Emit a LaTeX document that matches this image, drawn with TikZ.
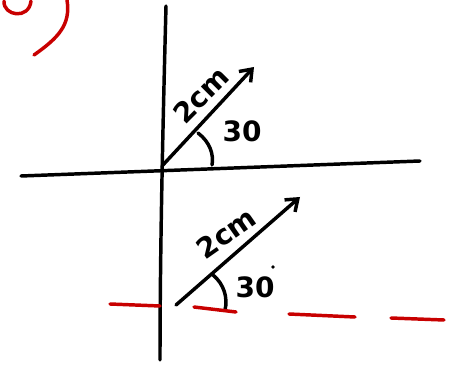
\documentclass[tikz,border=0pt]{standalone}
\usepackage{fontspec}
\setmainfont{DejaVu Sans}
\usetikzlibrary{arrows.meta}
\definecolor{penred}{RGB}{200,0,0}
\begin{document}
\begin{tikzpicture}[x=0.75pt,y=-0.75pt,
  ink/.style={line width=2.6pt,line cap=round,line join=round},
  redink/.style={ink,draw=penred},
  lbl/.style={font=\fontsize{21}{21}\selectfont\bfseries,inner sep=0pt}]
\useasboundingbox (0,0) rectangle (457,367);
% red "b)" fragment
\draw[redink] (4,1) .. controls (3,16) and (29,20) .. (31,1);
\draw[redink] (67,0) .. controls (71,25) and (58,38) .. (34,55);
% axes
\coordinate (ytop) at (166,6);
\coordinate (ybot) at (160,360);
\coordinate (xl) at (21,176);
\coordinate (xr) at (420,161);
\draw[ink] (ytop) .. controls (163,120) and (160,250) .. (ybot);
\draw[ink] (xl) -- (xr);
% upper vector
\coordinate (o1) at (162,166);
\coordinate (t1) at (254,67);
\draw[ink,-{Straight Barb[length=8pt,width=12pt]}] (o1) -- (t1);
\draw[ink] (198,133) .. controls (210,142) and (214,155) .. (212,165);
\node[lbl,rotate=45] (l1) at (201,95) {2cm};
\node[lbl] (a1) at (242,131) {30};
% lower vector
\coordinate (o2) at (176,305);
\coordinate (t2) at (300,197);
\draw[ink,-{Straight Barb[length=8pt,width=12pt]}] (o2) -- (t2);
\draw[ink] (213,275) .. controls (224,284) and (228,298) .. (225,310);
\node[lbl,rotate=35] (l2) at (226,233) {2cm};
\node[lbl] (a2) at (255,287) {30};
\fill (273,267) circle (1.8);
% red dashed line
\draw[redink] (110,304) -- (160,306);
\draw[redink] (194,307) -- (236,312);
\draw[redink] (289,314) -- (355,317);
\draw[redink] (391,318) -- (444,320);
\end{tikzpicture}
\end{document}
